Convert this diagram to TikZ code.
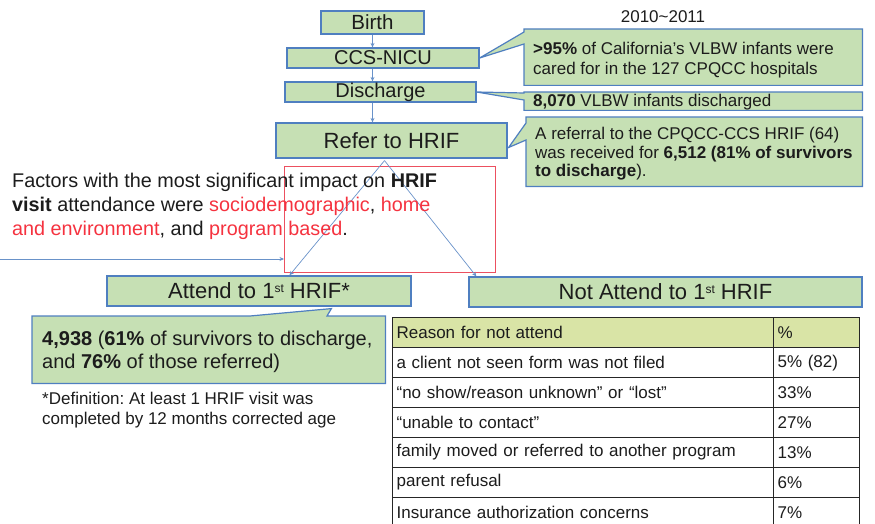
\documentclass[tikz,border=0pt]{standalone}
\usepackage{fontspec}
\setmainfont{Liberation Sans}
\usetikzlibrary{calc,arrows.meta}
\definecolor{boxfill}{HTML}{C6E0B4}
\definecolor{boxline}{HTML}{4F7FC0}
\definecolor{hdrfill}{HTML}{D9E4A6}
\definecolor{alert}{HTML}{F5323F}
\definecolor{framered}{HTML}{EC5060}
\definecolor{ink}{HTML}{1C1C1C}
\pgfdeclarelayer{bg}
\pgfsetlayers{bg,main}
\frenchspacing
\newcommand\setfs[2]{\fontsize{#1}{#2}\selectfont}
\newcommand\ordsup[1]{\raisebox{0.55ex}{\fontsize{12}{12}\selectfont #1}}
% one row of the reasons table: top y, fill, reason, share, name
\newcommand\reasonrow[5]{%
  \node[cell,fill=#2,minimum width=381pt,text width=373pt] (#5a) at (392,#1) {#3};
  \node[cell,fill=#2,minimum width=86pt,text width=78pt] (#5b) at (773,#1) {#4};}

\begin{document}
\begin{tikzpicture}[x=1pt,y=-1pt,
  stagebox/.style={draw=boxline, fill=boxfill, line width=1.2pt, inner sep=0pt, text=ink},
  callbox/.style={anchor=north west, inner sep=0pt},
  calltext/.style={anchor=west, inner sep=0pt, align=left, text=ink},
  callshape/.style={draw=boxline, fill=boxfill, line width=1.2pt, line join=miter},
  flow/.style={draw=boxline!85, line width=0.7pt, -{Stealth[length=4.5pt,width=4pt]}},
  cell/.style={draw=black!85, line width=1.2pt, anchor=north west, inner xsep=4pt,
    inner ysep=0pt, minimum height=30pt, align=left, text=ink, font=\setfs{17}{19}},
]
\useasboundingbox (0,0) rectangle (875,524);

% period label
\node[text=ink, font=\setfs{17}{19}] (period) at (663,17) {2010\textasciitilde 2011};

% main flow boxes
\node[stagebox, minimum width=103pt, minimum height=23pt, font=\setfs{20.5}{22}] (birth) at (372.5,22.5) {Birth};
\node[stagebox, minimum width=192pt, minimum height=20pt, font=\setfs{20}{22}] (ccs) at (383,58) {CCS-NICU};
\node[stagebox, minimum width=191pt, minimum height=20pt, font=\setfs{20}{22}] (discharge) at (380.5,92) {Discharge};
\node[stagebox, minimum width=231pt, minimum height=35pt, font=\setfs{22}{24}] (refer) at (391.5,140.5) {Refer to HRIF};

\draw[flow] (birth.south) -- (birth.south |- ccs.north);
\draw[flow] (birth.south |- ccs.south) -- (birth.south |- discharge.north);
\draw[flow] (birth.south |- discharge.south) -- (birth.south |- refer.north);

% callout frames
\node[callbox, minimum width=338pt, minimum height=56pt] (c1) at (524,29) {};
\node[callbox, minimum width=338pt, minimum height=18pt] (c2) at (524,92) {};
\node[callbox, minimum width=336pt, minimum height=69pt] (c3) at (526,117) {};
\node[stagebox, minimum width=304pt, minimum height=30pt, font=\setfs{22}{24}] (attend) at (259,291)
  {Attend to 1\ordsup{st} HRIF*};
\node[stagebox, minimum width=393pt, minimum height=30pt, font=\setfs{22}{24}] (notattend) at (665.5,292)
  {Not Attend to 1\ordsup{st} HRIF};
\node[callbox, minimum width=353pt, minimum height=67pt] (c4) at (32,316) {};

\begin{pgfonlayer}{bg}
  \draw[callshape] (c1.north west) -- (c1.north east) -- (c1.south east) -- (c1.south west)
    -- ($(c1.north west)+(0,15)$) -- (ccs.east) -- ($(c1.north west)+(0,3)$) -- cycle;
  \draw[callshape] (c2.north west) -- (c2.north east) -- (c2.south east) -- (c2.south west)
    -- ($(c2.north west)+(0,8)$) -- (discharge.east) -- ($(c2.north west)+(0,1)$) -- cycle;
  \draw[callshape] (c3.north west) -- (c3.north east) -- (c3.south east) -- (c3.south west)
    -- ($(c3.north west)+(0,23)$) -- ($(refer.east)+(1,7)$) -- ($(c3.north west)+(0,6)$) -- cycle;
  \draw[callshape] (c4.north west) -- ($(c4.north west)+(218,0)$) -- ($(attend.south west)+(225,2)$)
    -- ($(c4.north west)+(295,0)$) -- (c4.north east) -- (c4.south east) -- (c4.south west) -- cycle;
\end{pgfonlayer}

% callout texts
\node[calltext, font=\setfs{17}{20}] (t1) at ($(c1.west)+(9,3)$)
  {\textbf{>95\%} of California's VLBW infants were\\cared for in the 127 CPQCC hospitals};
\node[calltext, font=\setfs{17}{20}] (t2) at ($(c2.west)+(9,1)$)
  {\textbf{8,070} VLBW infants discharged};
\node[calltext, font=\setfs{17}{18.3}] (t3) at ($(c3.west)+(9,2)$)
  {A referral to the CPQCC-CCS HRIF (64)\\was received for \textbf{6,512 (81\% of survivors}\\\textbf{to discharge}).};
\node[calltext, font=\setfs{20}{23}] (t4) at ($(c4.west)+(10,2)$)
  {\textbf{4,938} (\textbf{61\%} of survivors to discharge,\\and \textbf{76\%} of those referred)};

% focus frame with the factors note
\node[draw=framered, line width=1.3pt, minimum width=211pt, minimum height=106pt, anchor=north west, inner sep=0pt] (focus) at (284,166) {};
\coordinate (apex) at ($(refer.south)+(-7,2)$);
\draw[flow] (apex) -- ($(attend.north west)+(183,0)$);
\draw[flow] (apex) -- ($(notattend.north west)+(8,0)$);
\coordinate (lead) at (0,259);
\draw[flow] (lead) -- (lead -| focus.west);

\node[anchor=west, align=left, inner sep=0pt, text=ink, font=\setfs{19.8}{24}] (factors) at (12,206)
  {Factors with the most significant impact on \textbf{HRIF}\\
   \textbf{visit} attendance were \textcolor{alert}{sociodemographic}, \textcolor{alert}{home}\\
   \textcolor{alert}{and environment}, and \textcolor{alert}{program based}.};

\node[anchor=west, align=left, inner sep=0pt, text=ink, font=\setfs{17}{20}] (definition) at (42,410)
  {*Definition: At least 1 HRIF visit was\\completed by 12 months corrected age};

% reasons for not attending
\reasonrow{317}{hdrfill}{Reason for not attend}{\%}{rh}
\reasonrow{347}{white}{a client not seen form was not filed}{5\% (82)}{ra}
\reasonrow{377}{white}{``no show/reason unknown'' or ``lost''}{33\%}{rb}
\reasonrow{407}{white}{``unable to contact''}{27\%}{rc}
\reasonrow{437}{white}{family moved or referred to another program}{13\%}{rd}
\reasonrow{467}{white}{parent refusal}{6\%}{re}
\reasonrow{497}{white}{Insurance authorization concerns}{7\%}{rf}
\end{tikzpicture}
\end{document}
